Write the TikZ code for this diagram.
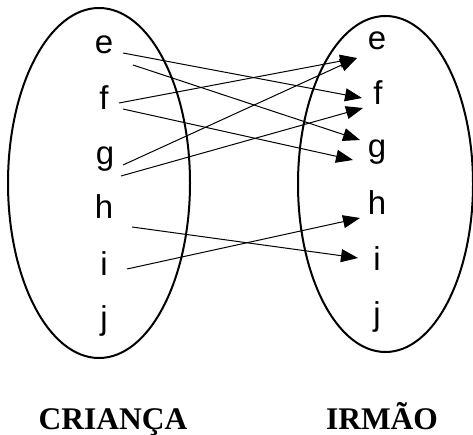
\documentclass[tikz,border=0pt]{standalone}
\usepackage{fontspec}
\setmainfont{Liberation Serif}
\newfontfamily\lettersfont{Liberation Sans}
\usetikzlibrary{arrows.meta}
\begin{document}
\begin{tikzpicture}[x=1pt,y=-1pt,
  setring/.style={draw,line width=2pt},
  elem/.style={anchor=base,inner sep=0pt,font=\lettersfont\fontsize{33}{33}\selectfont},
  title/.style={anchor=base,inner sep=0pt,font=\bfseries\fontsize{31.5}{31.5}\selectfont},
  maps/.style={line width=1pt,-{Triangle[length=17pt,width=13pt]}}]
\useasboundingbox (0,0) rectangle (473,435);
% the two sets
\draw[setring] (99,183) ellipse [x radius=91, y radius=175];
\draw[setring] (385.5,184) ellipse [x radius=87.5, y radius=168];
% elements of the left set
\node[elem] (eL) at (104,54) {e};
\node[elem] (fL) at (104,110) {f};
\node[elem] (gL) at (105,165) {g};
\node[elem] (hL) at (104,219) {h};
\node[elem] (iL) at (104,276) {i};
\node[elem] (jL) at (104,329) {j};
% elements of the right set
\node[elem] (eR) at (377,50) {e};
\node[elem] (fR) at (378,105) {f};
\node[elem] (gR) at (377,158) {g};
\node[elem] (hR) at (377,215) {h};
\node[elem] (iR) at (377,270) {i};
\node[elem] (jR) at (377,325) {j};
% set names
\node[title] (crianca) at (113,429) {CRIANÇA};
\node[title] (irmao) at (382,429) {IRMÃO};
% the relation
\draw[maps] ([shift={(19,-1)}]eL.base) -- ([shift={(-16,-7)}]fR.base);
\draw[maps] ([shift={(29,11)}]eL.base) -- ([shift={(-17,-18)}]gR.base);
\draw[maps] ([shift={(15,-7)}]fL.base) -- ([shift={(-20,8)}]eR.base);
\draw[maps] ([shift={(19,-1)}]fL.base) -- ([shift={(-24,2)}]gR.base);
\draw[maps] ([shift={(18,0)}]gL.base) -- ([shift={(-20,8)}]eR.base);
\draw[maps] ([shift={(16,11)}]gL.base) -- ([shift={(-15,3)}]fR.base);
\draw[maps] ([shift={(28,8)}]hL.base) -- ([shift={(-19,-12)}]iR.base);
\draw[maps] ([shift={(23,-7)}]iL.base) -- ([shift={(-17,3)}]hR.base);
\end{tikzpicture}
\end{document}
